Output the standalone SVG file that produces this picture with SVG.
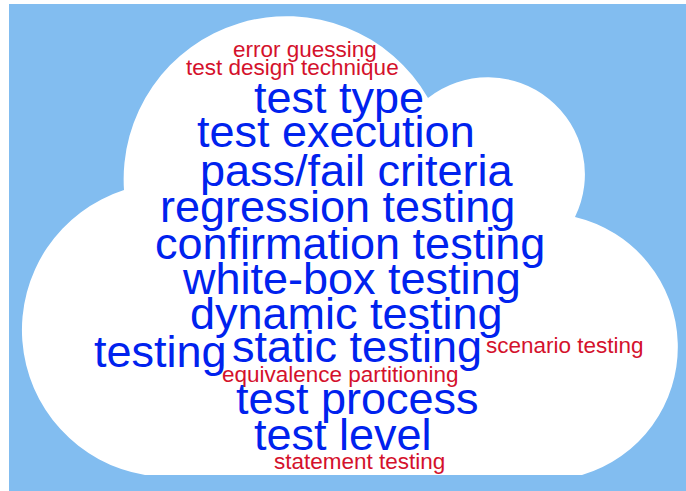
<svg xmlns="http://www.w3.org/2000/svg" width="686" height="491" viewBox="0 0 686 491">
  <style>
    .w { font-family: "Liberation Sans", Arial, sans-serif; }
    .big { font-size: 45px; fill: #0022ee; }
    .small { font-size: 22.5px; fill: #d4112c; }
  </style>
  <rect x="0" y="0" width="686" height="491" fill="#ffffff"/>
  <rect x="9" y="4" width="677" height="487" fill="#82bdf0"/>
  <path id="cloud" d="M 145,475 A 147 147 0 0 1 124,190 A 163 163 0 0 1 428,98 A 97 97 0 0 1 575,217 A 133.5 133.5 0 0 1 582,475 Z" fill="#ffffff"/>
  <g id="words" class="w">
    <text id="w-error-guessing" class="small" x="233" y="57">error guessing</text>
    <text id="w-test-design-technique" class="small" x="186" y="75">test design technique</text>
    <text id="w-test-type" class="big" x="254" y="113">test type</text>
    <text id="w-test-execution" class="big" x="197" y="147">test execution</text>
    <text id="w-pass-fail-criteria" class="big" x="200" y="186">pass/fail criteria</text>
    <text id="w-regression-testing" class="big" x="160" y="222">regression testing</text>
    <text id="w-confirmation-testing" class="big" x="155" y="259">confirmation testing</text>
    <text id="w-white-box-testing" class="big" x="183" y="294">white-box testing</text>
    <text id="w-dynamic-testing" class="big" x="190" y="329">dynamic testing</text>
    <text id="w-testing" class="big" x="94" y="367">testing</text>
    <text id="w-static-testing" class="big" x="232" y="362">static testing</text>
    <text id="w-scenario-testing" class="small" x="486" y="353">scenario testing</text>
    <text id="w-equivalence-partitioning" class="small" x="222" y="382">equivalence partitioning</text>
    <text id="w-test-process" class="big" x="236" y="414">test process</text>
    <text id="w-test-level" class="big" x="254" y="450">test level</text>
    <text id="w-statement-testing" class="small" x="274" y="469">statement testing</text>
  </g>
</svg>
